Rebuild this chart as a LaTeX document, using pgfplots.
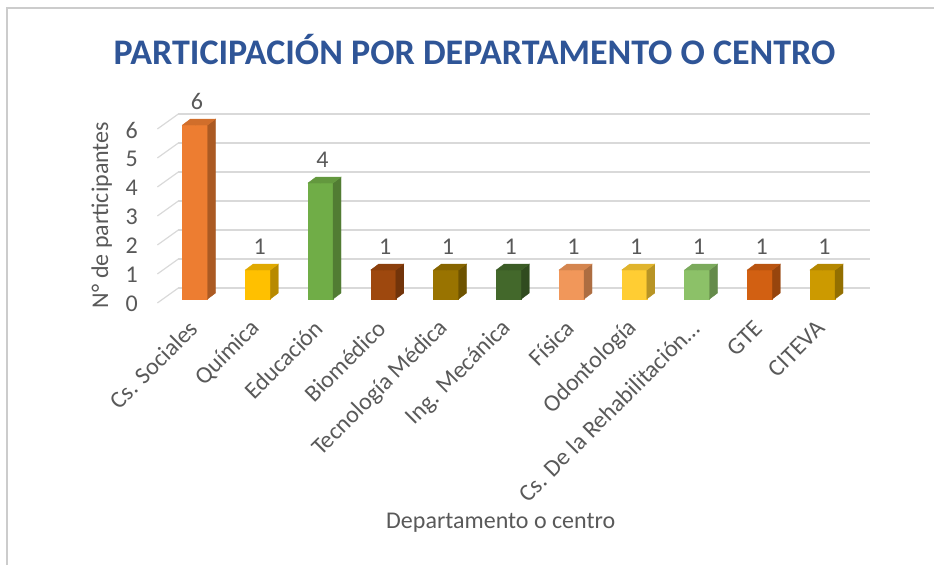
\documentclass[border=0pt]{standalone}
\usepackage{pgfplots}
\pgfplotsset{compat=1.18}
\usepackage{fontspec}
\setmainfont{Carlito}

\definecolor{cA}{HTML}{ED7D31}
\definecolor{cB}{HTML}{FFC000}
\definecolor{cC}{HTML}{70AD47}
\definecolor{cD}{HTML}{9E480E}
\definecolor{cE}{HTML}{997300}
\definecolor{cF}{HTML}{43682B}
\definecolor{cG}{HTML}{F1975A}
\definecolor{cH}{HTML}{FFCD33}
\definecolor{cI}{HTML}{8CC168}
\definecolor{cJ}{HTML}{D26012}
\definecolor{cK}{HTML}{CC9A00}
\definecolor{txt}{HTML}{595959}
\definecolor{ttl}{HTML}{2F5597}
\definecolor{gridc}{HTML}{D9D9D9}

% 3D-looking column drawn at each data point (front, right side, top)
\pgfplotsset{
  cube/.style={
    only marks, scatter, mark=*, mark size=0pt,
    mark options={draw=none, fill=none},
    visualization depends on={rawy \as \ry},
    scatter/@pre marker code/.append code={
      \fill[#1] (-12.5pt,0pt) rectangle (12.5pt,{-\ry*29pt});
      \fill[#1!72!black] (12.5pt,0pt) -- ++(8pt,6pt) -- ++(0pt,{-\ry*29pt}) -- ++(-8pt,-6pt) -- cycle;
      \fill[#1!88!black] (-12.5pt,0pt) -- ++(8pt,6pt) -- ++(25pt,0pt) -- ++(-8pt,-6pt) -- cycle;
    },
  }
}

\begin{document}
\begin{tikzpicture}
\path[use as bounding box] (0,0) rectangle (934pt,565pt);
\draw[gray!40, line width=1.2pt] (7pt,0pt) -- (7pt,557pt) -- (934pt,557pt);
\begin{axis}[
    at={(157.35pt,266pt)}, anchor=south west,
    x=62.75pt, y=29pt,
    xmin=-0.6, xmax=10.5, ymin=0, ymax=6.3,
    clip=false,
    axis line style={draw=none},
    major tick length=0pt,
    xtick={0,...,10}, ytick={0,...,6},
    xticklabels={Cs. Sociales, Química, Educación, Biomédico, Tecnología Médica,
                 Ing. Mecánica, Física, Odontología, Cs. De la Rehabilitación…, GTE, CITEVA},
    /pgf/number format/assume math mode=true,
    ticklabel style={font=\fontsize{24}{28}\selectfont, text=txt},
    xticklabel style={xshift=1pt, yshift=-23pt, rotate=45, anchor=east},
    yticklabel style={xshift=-16pt, yshift=-5pt},
    nodes near coords,
    every node near coord/.append style={font=\fontsize{24}{28}\selectfont, text=txt,
                                         anchor=south, yshift=12pt, xshift=2pt},
    title={PARTICIPACIÓN POR DEPARTAMENTO O CENTRO},
    title style={at={(axis description cs:0.4555,1.335)}, anchor=center,
                 font=\bfseries\fontsize{36}{42}\selectfont, text=ttl},
    xlabel={Departamento o centro},
    xlabel style={at={(axis description cs:0.493,-1.225)}, anchor=center,
                  font=\fontsize{24}{28}\selectfont, text=txt},
    ylabel={N° de participantes},
    ylabel style={at={(axis description cs:-0.0797,0.46)}, anchor=center, rotate=0,
                  font=\fontsize{24}{28}\selectfont, text=txt},
  ]
  \pgfplotsinvokeforeach{0,...,6}{
    \draw[gridc, line width=1.2pt] ([yshift=-4pt]axis cs:-0.6,#1) -- ([xshift=21pt,yshift=11pt]axis cs:-0.6,#1);
    \draw[gridc, line width=2pt] ([xshift=21pt,yshift=11pt]axis cs:-0.6,#1) -- ([yshift=11pt]axis cs:10.76,#1);
  }
  \addplot[cube=cA] coordinates {(0,6)};
  \addplot[cube=cB] coordinates {(1,1)};
  \addplot[cube=cC] coordinates {(2,4)};
  \addplot[cube=cD] coordinates {(3,1)};
  \addplot[cube=cE] coordinates {(4,1)};
  \addplot[cube=cF] coordinates {(5,1)};
  \addplot[cube=cG] coordinates {(6,1)};
  \addplot[cube=cH] coordinates {(7,1)};
  \addplot[cube=cI] coordinates {(8,1)};
  \addplot[cube=cJ] coordinates {(9,1)};
  \addplot[cube=cK] coordinates {(10,1)};
\end{axis}
\end{tikzpicture}
\end{document}
